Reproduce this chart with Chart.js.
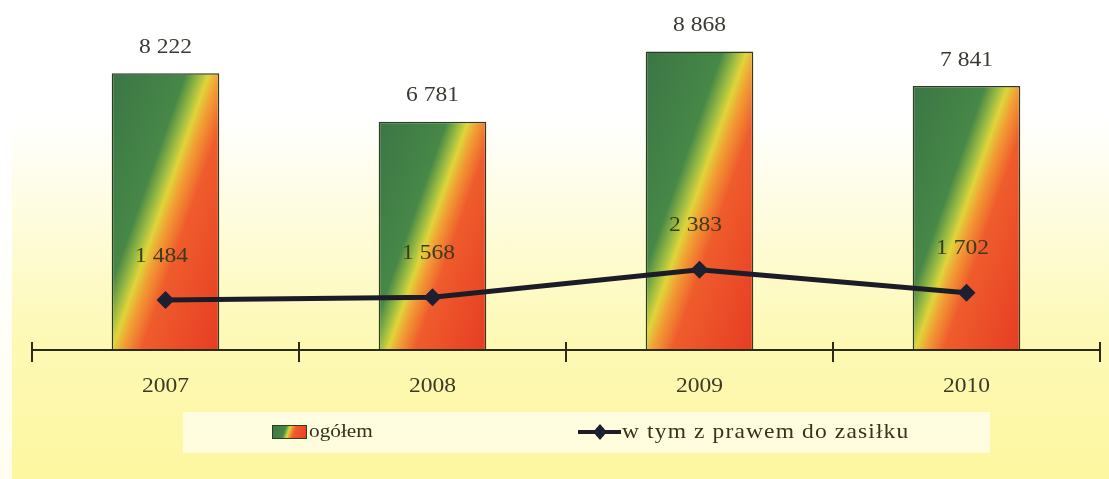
<!DOCTYPE html>
<html>
<head>
<meta charset="utf-8">
<script src="https://cdn.jsdelivr.net/npm/chart.js@4"></script>
<style>
  body { margin: 0; }
  #wrap {
    position: relative; width: 1109px; height: 479px;
    background: linear-gradient(to bottom, #ffffff 0%, #ffffff 25%, #fefcde 45%, #fdf9b6 70%, #fdf7a0 100%);
  }
  #wrap::before {
    content: ''; position: absolute; left: 0; top: 0; width: 12px; height: 100%;
    background: linear-gradient(to bottom, #ffffff 0%, #ffffff 40%, #fffef0 100%);
  }
  canvas { position: relative; }
</style>
</head>
<body>
<div id="wrap"><canvas id="chart" width="1109" height="479"></canvas></div>
<script>
const years = ['2007', '2008', '2009', '2010'];
const ogolem = [8222, 6781, 8868, 7841];
const zPrawem = [1484, 1568, 2383, 1702];
const seriesNames = ['ogółem', 'w tym z prawem do zasiłku'];

const SERIF = '"Liberation Serif", "DejaVu Serif", serif';
const STRETCH = 1.12; // the scanned text is a bit wide

const fmt = v => String(v).replace(/\B(?=(\d{3})+(?!\d))/g, ' ');

function stretchedText(ctx, txt, x, y, size, color, align, spacing) {
    ctx.save();
    ctx.font = size + 'px ' + SERIF;
    if (spacing) ctx.letterSpacing = spacing + 'px';
    ctx.fillStyle = color;
    ctx.textBaseline = 'middle';
    ctx.textAlign = align || 'center';
    ctx.translate(x, y);
    ctx.scale(STRETCH, 1);
    ctx.fillText(txt, 0, 0);
    ctx.restore();
}

function barGradient(ctx, left, top, w, h) {
    // diagonal: green top-left, narrow yellow band, red bottom-right
    const dx = 0.943, dy = 0.332;
    const len = w * dx + h * dy;
    const g = ctx.createLinearGradient(left, top, left + dx * len, top + dy * len);
    g.addColorStop(0, '#3a7646');
    g.addColorStop(0.36, '#478747');
    g.addColorStop(0.43, '#9cbc42');
    g.addColorStop(0.475, '#e0d43a');
    g.addColorStop(0.53, '#f29c34');
    g.addColorStop(0.62, '#ef5c2c');
    g.addColorStop(1, '#e63c24');
    return g;
}

const decorPlugin = {
    id: 'decor',
    afterDatasetsDraw(chart) {
        const ctx = chart.ctx;
        const xs = chart.scales.x;
        const base = chart.chartArea.bottom;

        // axis line and tick marks at category boundaries
        ctx.save();
        ctx.strokeStyle = '#2b2b1c';
        ctx.lineWidth = 2;
        ctx.beginPath();
        ctx.moveTo(xs.left, base);
        ctx.lineTo(xs.right, base);
        const step = (xs.right - xs.left) / years.length;
        for (let i = 0; i <= years.length; i++) {
            const x = Math.round(xs.left + i * step);
            ctx.moveTo(x, base - 8);
            ctx.lineTo(x, base + 12);
        }
        ctx.stroke();
        ctx.restore();

        // category labels
        years.forEach((y, i) => {
            stretchedText(ctx, y, xs.getPixelForTick(i), base + 36, 21, '#3a3a26');
        });

        // value labels
        chart.getDatasetMeta(0).data.forEach((bar, i) => {
            stretchedText(ctx, fmt(ogolem[i]), bar.x, bar.y - 26, 21, '#3a3a32');
        });
        chart.getDatasetMeta(1).data.forEach((pt, i) => {
            stretchedText(ctx, fmt(zPrawem[i]), pt.x - 4, pt.y - 44, 21, '#3b3b1c');
        });

        // legend
        ctx.save();
        ctx.fillStyle = 'rgba(255, 254, 236, 0.8)';
        ctx.fillRect(183, 412, 807, 41);
        ctx.fillStyle = barGradient(ctx, 272, 425, 35, 14);
        ctx.fillRect(272, 425, 35, 14);
        ctx.strokeStyle = '#2e3a22';
        ctx.lineWidth = 1;
        ctx.strokeRect(272.5, 425.5, 34, 13);
        ctx.strokeStyle = '#1c1c28';
        ctx.lineWidth = 4;
        ctx.beginPath();
        ctx.moveTo(578, 432);
        ctx.lineTo(621, 432);
        ctx.stroke();
        ctx.fillStyle = '#1c2030';
        ctx.beginPath();
        ctx.moveTo(600, 424); ctx.lineTo(607, 432); ctx.lineTo(600, 440); ctx.lineTo(593, 432);
        ctx.closePath();
        ctx.fill();
        ctx.restore();
        stretchedText(ctx, seriesNames[0], 309, 432, 19, '#33331f', 'left');
        stretchedText(ctx, seriesNames[1], 622, 432, 21, '#33331f', 'left', 1);
    }
};

new Chart(document.getElementById('chart'), {
    data: {
        labels: years,
        datasets: [
            {
                type: 'bar',
                label: seriesNames[0],
                data: ogolem,
                order: 2,
                backgroundColor: c => {
                    const ch = c.chart;
                    if (!ch.chartArea || c.dataIndex === undefined) return '#48884a';
                    const xs = ch.scales.x, ys = ch.scales.y;
                    const w = (xs.right - xs.left) / years.length * 0.403;
                    const x = xs.getPixelForValue(c.dataIndex) - w / 2;
                    const top = ys.getPixelForValue(ogolem[c.dataIndex]);
                    return barGradient(ch.ctx, x, top, w, ys.getPixelForValue(0) - top);
                },
                borderColor: '#2e3a22',
                borderWidth: 1.5,
                categoryPercentage: 1,
                barPercentage: 0.403
            },
            {
                type: 'line',
                label: seriesNames[1],
                data: zPrawem,
                order: 1,
                borderColor: '#1c1c28',
                borderWidth: 5,
                backgroundColor: '#1c2030',
                pointStyle: 'rectRot',
                pointRadius: 9,
                pointBorderWidth: 0,
                tension: 0
            }
        ]
    },
    options: {
        responsive: false,
        animation: false,
        layout: { padding: { left: 32, right: 4, top: 0, bottom: 0 } },
        plugins: { legend: { display: false }, tooltip: { enabled: false } },
        scales: {
            x: {
                grid: { display: false },
                border: { display: false },
                ticks: { display: false },
                afterFit: s => { s.height = 129; }
            },
            y: {
                display: false,
                min: 0,
                max: 10130
            }
        }
    },
    plugins: [decorPlugin]
});
</script>
</body>
</html>
